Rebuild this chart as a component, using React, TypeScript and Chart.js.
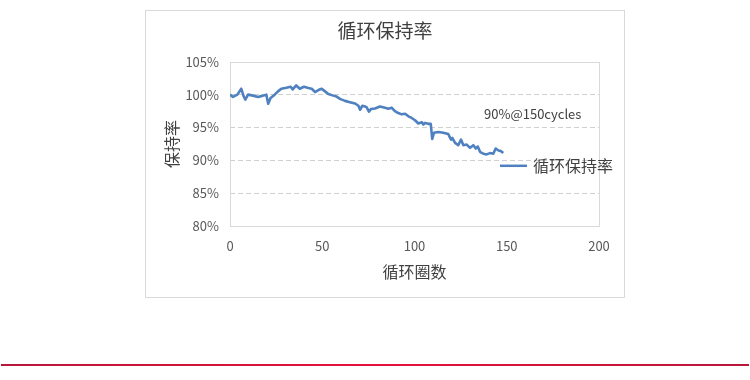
import React, { useEffect, useRef } from "react";
import { Chart, registerables } from "chart.js";

Chart.register(...registerables);

const CJK = '"Noto Sans CJK SC", "Noto Sans", sans-serif';

const chartTitle = "循环保持率";
const seriesLabel = "循环保持率";
const xTitle = "循环圈数";
const yTitle = "保持率";
const annotationText = "90%@150cycles";

const cycles = [
  0, 1.6, 4, 6.1, 7.4, 8.3, 9.8, 12.5, 15.2, 17.9,
  19.7, 20.7, 22, 24.2, 26, 27.8, 30.5, 32.9, 34, 35.9,
  37.8, 40.1, 42.5, 44.3, 46.1, 47.9, 49.7, 51.5, 53.3, 56,
  57.8, 59.6, 62.3, 65, 67.8, 69.6, 70.5, 71.7, 73.2, 74.1,
  75.3, 76.4, 78.6, 81.3, 84, 85.8, 87.6, 89.4, 91.2, 93.1,
  94.9, 96.7, 98.5, 100.3, 102.1, 104, 104.8, 105.7, 107.5, 108.8,
  109.6, 110.6, 112.9, 115.6, 118.3, 119.8, 120.5, 122, 123.7, 125.2,
  126.5, 128.3, 130.1, 131.9, 133.2, 134.3, 135.5, 137.3, 139.1, 140.9,
  142.7, 144, 145.5, 146.9, 148.1,
];

const retention = [
  100.0, 99.65, 100, 100.9, 99.75, 99.25, 100, 99.85, 99.65, 99.85,
  100, 98.6, 99.5, 100, 100.5, 100.9, 101.05, 101.2, 100.8, 101.4,
  100.9, 101.2, 101, 100.9, 100.4, 100.7, 100.9, 100.5, 100.1, 99.85,
  99.7, 99.35, 99.05, 98.85, 98.65, 98.3, 97.7, 98.3, 98.2, 98.05,
  97.4, 97.8, 97.9, 98.2, 98, 97.85, 98, 97.5, 97.2, 97,
  97.1, 96.7, 96.45, 96.1, 95.6, 95.8, 95.45, 95.7, 95.55, 95.55,
  93.25, 94.2, 94.3, 94.2, 94.0, 93.15, 93.4, 92.65, 92.3, 93.15,
  92.3, 92.4, 91.9, 92.3, 91.8, 92.1, 91.3, 91, 90.9, 91.1,
  91, 91.8, 91.5, 91.4, 91.1,
];

const xMin = 0;
const xMax = 200;
const xStep = 50;
const yMin = 80;
const yMax = 105;
const yStep = 5;

const LINE_COLOR = "#4f81c0";
const TEXT_COLOR = "#404040";
const TICK_COLOR = "#595959";
const GRID_COLOR = "#d0d0d0";

const decorPlugin = {
  id: "decor",
  beforeDatasetsDraw(chart: any) {
    const { ctx, chartArea: a } = chart;
    ctx.save();
    ctx.strokeStyle = "#d9d9d9";
    ctx.lineWidth = 1;
    ctx.strokeRect(
      Math.round(a.left) + 0.5,
      Math.round(a.top) + 0.5,
      Math.round(a.right - a.left),
      Math.round(a.bottom - a.top)
    );
    ctx.restore();
  },
  afterDraw(chart: any) {
    const { ctx, chartArea: a } = chart;
    ctx.save();
    // annotation
    ctx.fillStyle = TEXT_COLOR;
    ctx.font = `13px ${CJK}`;
    ctx.textBaseline = "middle";
    ctx.textAlign = "left";
    ctx.fillText(annotationText, a.left + 254, a.top + 52);
    // legend
    const ly = a.top + 104;
    ctx.strokeStyle = LINE_COLOR;
    ctx.lineWidth = 2.5;
    ctx.beginPath();
    ctx.moveTo(a.left + 270, ly);
    ctx.lineTo(a.left + 297, ly);
    ctx.stroke();
    ctx.font = `16px ${CJK}`;
    ctx.fillStyle = TEXT_COLOR;
    ctx.fillText(seriesLabel, a.left + 303, ly);
    ctx.restore();
  },
};

export default function App() {
  const canvasRef = useRef<HTMLCanvasElement | null>(null);

  useEffect(() => {
    if (!canvasRef.current) return;
    const data = cycles.map((c, i) => ({ x: c, y: retention[i] }));
    const chart = new Chart(canvasRef.current, {
      type: "line",
      data: {
        datasets: [
          {
            label: seriesLabel,
            data,
            borderColor: LINE_COLOR,
            backgroundColor: LINE_COLOR,
            borderWidth: 2.6,
            borderJoinStyle: "round",
            pointRadius: 0,
            tension: 0,
            fill: false,
            yAxisID: "y",
          },
        ],
      },
      options: {
        responsive: false,
        animation: false,
        layout: { padding: { left: 12.5, right: 12.5, top: 0, bottom: 0 } },
        plugins: {
          legend: { display: false },
          tooltip: { enabled: false },
          title: {
            display: true,
            text: chartTitle,
            color: TEXT_COLOR,
            font: { size: 19, family: CJK, weight: "normal" },
            padding: { top: 8, bottom: 20 },
          },
        },
        scales: {
          x: {
            type: "linear",
            min: xMin,
            max: xMax,
            ticks: {
              stepSize: xStep,
              color: TICK_COLOR,
              font: { size: 13, family: CJK },
              padding: 12,
              maxRotation: 0,
            },
            grid: { display: false, drawTicks: false },
            border: { display: false },
            title: {
              display: true,
              text: xTitle,
              color: TEXT_COLOR,
              font: { size: 16, family: CJK },
              padding: { top: 0, bottom: 15 },
            },
            afterFit(scale: any) {
              scale.height = 71;
            },
          },
          y: {
            type: "linear",
            position: "left",
            min: yMin,
            max: yMax,
            ticks: {
              stepSize: yStep,
              color: TICK_COLOR,
              font: { size: 13, family: CJK },
              padding: 11,
              callback: (v: any) => `${v}%`,
            },
            grid: {
              drawTicks: false,
              color: (ctx: any) =>
                ctx.tick && (ctx.tick.value === yMin || ctx.tick.value === yMax)
                  ? "rgba(0,0,0,0)"
                  : GRID_COLOR,
            },
            border: { display: false, dash: [5, 3] },
            title: {
              display: true,
              text: yTitle,
              color: TEXT_COLOR,
              font: { size: 16, family: CJK },
              padding: { top: 3.5, bottom: 0 },
            },
            afterFit(scale: any) {
              scale.width = 71.5;
            },
          },
          yPad: {
            type: "linear",
            position: "right",
            display: true,
            min: yMin,
            max: yMax,
            ticks: { display: false },
            grid: { display: false, drawTicks: false },
            border: { display: false },
            afterFit(scale: any) {
              scale.width = 12.5;
            },
          },
        },
      },
      plugins: [decorPlugin],
    });
    return () => chart.destroy();
  }, []);

  return (
    <div
      style={{
        position: "absolute",
        left: 0,
        top: 0,
        width: 750,
        height: 380,
        background: "#fff",
        overflow: "hidden",
      }}
    >
      <div
        style={{
          position: "absolute",
          left: 145,
          top: 10,
          width: 480,
          height: 288,
          boxSizing: "border-box",
          border: "1px solid #d9d9d9",
          background: "#fff",
        }}
      >
        <canvas ref={canvasRef} width={478} height={286} style={{ display: "block" }} />
      </div>
      <div
        style={{
          position: "absolute",
          left: 1,
          top: 364,
          width: 748,
          height: 2,
          background: "linear-gradient(to right, #b8173a, #e8103c 50%, #b8173a)",
        }}
      />
    </div>
  );
}
